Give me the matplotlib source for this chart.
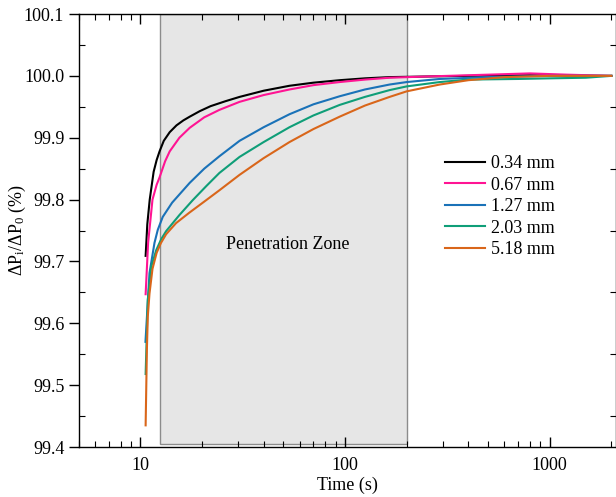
import matplotlib
matplotlib.use("Agg")
import matplotlib.pyplot as plt
from matplotlib.ticker import LogLocator, MultipleLocator, FormatStrFormatter, NullFormatter

plt.rcParams['font.family'] = ['Liberation Serif', 'DejaVu Serif']
plt.rcParams['mathtext.fontset'] = 'custom'
plt.rcParams['mathtext.rm'] = 'Liberation Serif'
plt.rcParams['mathtext.it'] = 'Liberation Serif:italic'

# data (time in s, normalised pressure drop in %)
t_034 = [10.6, 10.8, 11.1, 11.6, 12.0, 12.4, 13.0, 13.9, 15.0, 16.2, 17.4, 19.5, 22, 26, 30.5,
         40, 53.5, 70, 94, 125, 165, 250, 400, 800, 2000]
v_034 = [99.709, 99.76, 99.80, 99.845, 99.864, 99.878, 99.895, 99.909, 99.920, 99.928, 99.934,
         99.943, 99.951, 99.959, 99.966, 99.976, 99.984, 99.989, 99.993, 99.996, 99.998, 99.999,
         100.0, 100.001, 100.0]

t_067 = [10.6, 10.9, 11.45, 12.0, 12.4, 13.2, 13.9, 15.5, 17.4, 20.5, 24.3, 30.5, 40, 53.5, 70,
         94, 125, 165, 250, 400, 800, 1200, 2000]
v_067 = [99.647, 99.73, 99.80, 99.824, 99.836, 99.862, 99.878, 99.900, 99.916, 99.933, 99.945,
         99.958, 99.969, 99.978, 99.985, 99.990, 99.994, 99.997, 99.999, 100.001, 100.004,
         100.002, 100.0]

t_127 = [10.58, 11.07, 11.71, 12.15, 12.85, 14.28, 17.4, 20.5, 24.3, 30.5, 40, 53.5, 70, 94,
         125, 165, 200, 290, 500, 1000, 2000]
v_127 = [99.570, 99.681, 99.730, 99.751, 99.772, 99.795, 99.827, 99.850, 99.870, 99.895, 99.917,
         99.938, 99.954, 99.967, 99.978, 99.986, 99.990, 99.995, 99.998, 100.0, 100.0]

t_203 = [10.6, 10.86, 11.28, 11.93, 12.63, 13.35, 15.5, 18.0, 21, 24.3, 30.5, 40, 53.5, 70, 94,
         125, 165, 200, 290, 400, 700, 1000, 1500, 2000]
v_203 = [99.518, 99.638, 99.691, 99.718, 99.736, 99.749, 99.775, 99.799, 99.822, 99.843, 99.869,
         99.893, 99.917, 99.936, 99.953, 99.966, 99.977, 99.983, 99.990, 99.994, 99.995, 99.996,
         99.997, 100.0]

t_518 = [10.6, 10.75, 10.86, 11.07, 11.45, 12.0, 12.6, 13.35, 14.93, 17.36, 20.55, 24.3, 30.5,
         40, 53.5, 70, 94, 125, 165, 200, 290, 400, 600, 1000, 2000]
v_518 = [99.435, 99.557, 99.611, 99.648, 99.688, 99.714, 99.730, 99.744, 99.762, 99.779, 99.797,
         99.815, 99.840, 99.867, 99.893, 99.914, 99.934, 99.952, 99.966, 99.975, 99.986, 99.993,
         99.998, 100.0, 100.0]

labels = ['0.34 mm', '0.67 mm', '1.27 mm', '2.03 mm', '5.18 mm']
colors = ['#000000', '#ff1493', '#1a72b8', '#0f9e78', '#d9661a']
series = [(t_034, v_034), (t_067, v_067), (t_127, v_127), (t_203, v_203), (t_518, v_518)]

zone_start, zone_end = 12.5, 200

fig = plt.figure(figsize=(6.16, 4.97), dpi=100)
ax = fig.add_axes([0.128, 0.1006, 0.8715, 0.8712])

ax.axvspan(zone_start, zone_end, ymin=0.007, ymax=1, facecolor='#e6e6e6',
           edgecolor='#8c8c8c', linewidth=1.0, zorder=0)

for (t, v), c, lab in zip(series, colors, labels):
    ax.plot(t, v, color=c, lw=1.5, label=lab)

ax.set_xscale('log')
ax.set_xlim(5, 2100)
ax.set_ylim(99.4, 100.1)
ax.xaxis.set_major_locator(LogLocator(base=10, numticks=10))
ax.xaxis.set_minor_locator(LogLocator(base=10, subs=range(2, 10), numticks=20))
ax.xaxis.set_minor_formatter(NullFormatter())
ax.xaxis.set_major_formatter(FormatStrFormatter('%d'))
ax.yaxis.set_major_locator(MultipleLocator(0.1))
ax.yaxis.set_minor_locator(MultipleLocator(0.05))
ax.yaxis.set_major_formatter(FormatStrFormatter('%.1f'))

ax.tick_params(axis='x', which='both', direction='in', top=True, labelsize=13, pad=7)
ax.tick_params(axis='x', which='major', length=7, width=1)
ax.tick_params(axis='x', which='minor', length=4, width=0.8)
ax.tick_params(axis='y', which='major', direction='out', length=7, width=1, labelsize=13)
ax.tick_params(axis='y', which='minor', direction='in', length=4, width=0.8, right=True)
for s in ax.spines.values():
    s.set_linewidth(1.0)

ax.set_xlabel('Time (s)', fontsize=13, labelpad=2)
ax.set_ylabel(r'$\Delta$P$_\mathrm{i}$/$\Delta$P$_0$ (%)', fontsize=13)
ax.yaxis.set_label_coords(-0.095, 0.5)

ax.text(52.4, 99.727, 'Penetration Zone', fontsize=13, ha='center', va='center')

ax.legend(loc='upper left', bbox_to_anchor=(436 / 616, 1 - 146 / 497),
          bbox_transform=fig.transFigure, frameon=False, fontsize=13,
          handlelength=2.2, handletextpad=0.35, labelspacing=0.25, borderpad=0)

fig.savefig('out.png', dpi=100)
